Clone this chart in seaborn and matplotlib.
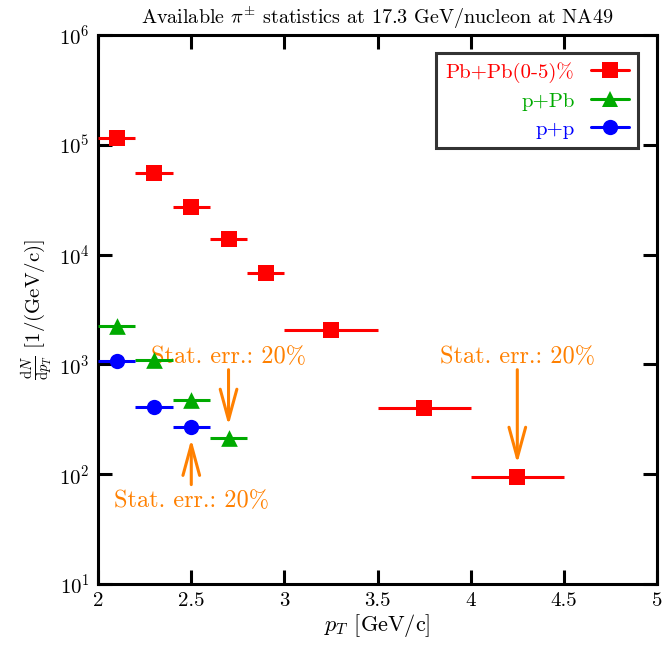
import numpy as np
import pandas as pd
import matplotlib
matplotlib.use("Agg")
import matplotlib.pyplot as plt
import seaborn as sns
from matplotlib.lines import Line2D
from matplotlib.ticker import NullLocator, FixedLocator

# --------------------------------------------
# Data
# --------------------------------------------
pbpb_pt = [2.1, 2.3, 2.5, 2.7, 2.9, 3.25, 3.75, 4.25]
pbpb_dpt = [0.1, 0.1, 0.1, 0.1, 0.1, 0.25, 0.25, 0.25]
pbpb_y = [1.15e5, 5.5e4, 2.7e4, 1.38e4, 6.8e3, 2.06e3, 400, 94]

ppb_pt = [2.1, 2.3, 2.5, 2.7]
ppb_dpt = [0.1, 0.1, 0.1, 0.1]
ppb_y = [2240, 1100, 474, 214]

pp_pt = [2.1, 2.3, 2.5]
pp_dpt = [0.1, 0.1, 0.1]
pp_y = [1070, 410, 270]

labels = ["Pb+Pb(0-5)%", "p+Pb", "p+p"]
colors = ["#ff0000", "#00aa00", "#0000ff"]
markers = ["s", "^", "o"]
msizes = [12, 12, 11]

# annotations: text, text position (baseline / top), arrow start, arrow end
notes = [
    ("Stat. err.: 20%", (2.7, 1.02e3), (2.7, 950), (2.7, 262)),
    ("Stat. err.: 20%", (2.5, 72), (2.5, 76), (2.5, 222)),
    ("Stat. err.: 20%", (4.25, 1.02e3), (4.25, 950), (4.25, 118)),
]
orange = "#ff8000"

# --------------------------------------------
# Style
# --------------------------------------------
sns.set_style("ticks")
plt.rcParams["font.family"] = ["cmr10", "DejaVu Serif"]
plt.rcParams["mathtext.fontset"] = "cm"
plt.rcParams["axes.formatter.use_mathtext"] = True
plt.rcParams["axes.unicode_minus"] = False
plt.rcParams["axes.edgecolor"] = "black"
plt.rcParams["xtick.color"] = "black"
plt.rcParams["ytick.color"] = "black"
plt.rcParams["text.color"] = "black"
plt.rcParams["axes.labelcolor"] = "black"

fig, ax = plt.subplots(figsize=(6.63, 6.49), dpi=100)
fig.subplots_adjust(left=0.148, right=0.991, bottom=0.100, top=0.946)

series = [
    (pbpb_pt, pbpb_dpt, pbpb_y),
    (ppb_pt, ppb_dpt, ppb_y),
    (pp_pt, pp_dpt, pp_y),
]

handles = []
for i, (x, dx, y) in enumerate(series):
    ax.errorbar(x, y, xerr=dx, fmt="none", ecolor=colors[i],
                elinewidth=2.2, capsize=0, zorder=3 + i)
    df = pd.DataFrame({"pt": x, "y": y})
    sns.scatterplot(data=df, x="pt", y="y", ax=ax, marker=markers[i],
                    s=msizes[i] ** 2, color=colors[i], edgecolor=colors[i],
                    linewidth=0, zorder=4 + i)
    handles.append(Line2D([], [], color=colors[i], lw=2.2,
                          marker=markers[i], markersize=msizes[i],
                          markeredgewidth=0))

for txt, tpos, a0, a1 in notes:
    ax.text(tpos[0], tpos[1], txt, color=orange, fontsize=17.5,
            ha="center", va="baseline" if tpos[1] > a0[1] else "top")
    ax.annotate("", xy=a1, xytext=a0,
                arrowprops=dict(arrowstyle="->,head_length=2.2,head_width=0.6",
                                color=orange, lw=2.2),
                zorder=10)

ax.set_yscale("log")
ax.set_xlim(2, 5)
ax.set_ylim(10, 1e6)
ax.yaxis.set_major_locator(FixedLocator([1e1, 1e2, 1e3, 1e4, 1e5, 1e6]))
ax.yaxis.set_minor_locator(NullLocator())
ax.set_xticks([2, 2.5, 3, 3.5, 4, 4.5, 5])
ax.set_xticklabels(["2", "2.5", "3", "3.5", "4", "4.5", "5"])

for sp in ax.spines.values():
    sp.set_linewidth(2.2)
    sp.set_visible(True)
ax.tick_params(which="both", direction="in", length=10, width=2.2,
               top=True, right=True, labelsize=15, pad=6)

ax.set_xlabel(r"$p_T$ [GeV/c]", fontsize=16, labelpad=1)
ax.set_ylabel(r"$\frac{\mathrm{d}N}{\mathrm{d}p_T}$ [1/(GeV/c)]", fontsize=15, labelpad=2)
ax.set_title(r"Available $\pi^{\pm}$ statistics at 17.3 GeV/nucleon at NA49",
             fontsize=14.5, pad=8)

leg = ax.legend(handles, labels, loc="upper right", bbox_to_anchor=(0.966, 0.968),
                markerfirst=False, fontsize=15, frameon=True, fancybox=False,
                handlelength=1.8, borderpad=0.45, labelspacing=0.45,
                borderaxespad=0)
leg.get_frame().set_edgecolor("black")
leg.get_frame().set_linewidth(2.2)
leg.set_zorder(20)
for t, c in zip(leg.get_texts(), colors):
    t.set_color(c)
    t.set_ha("right")

fig.savefig("out.png", dpi=100)
